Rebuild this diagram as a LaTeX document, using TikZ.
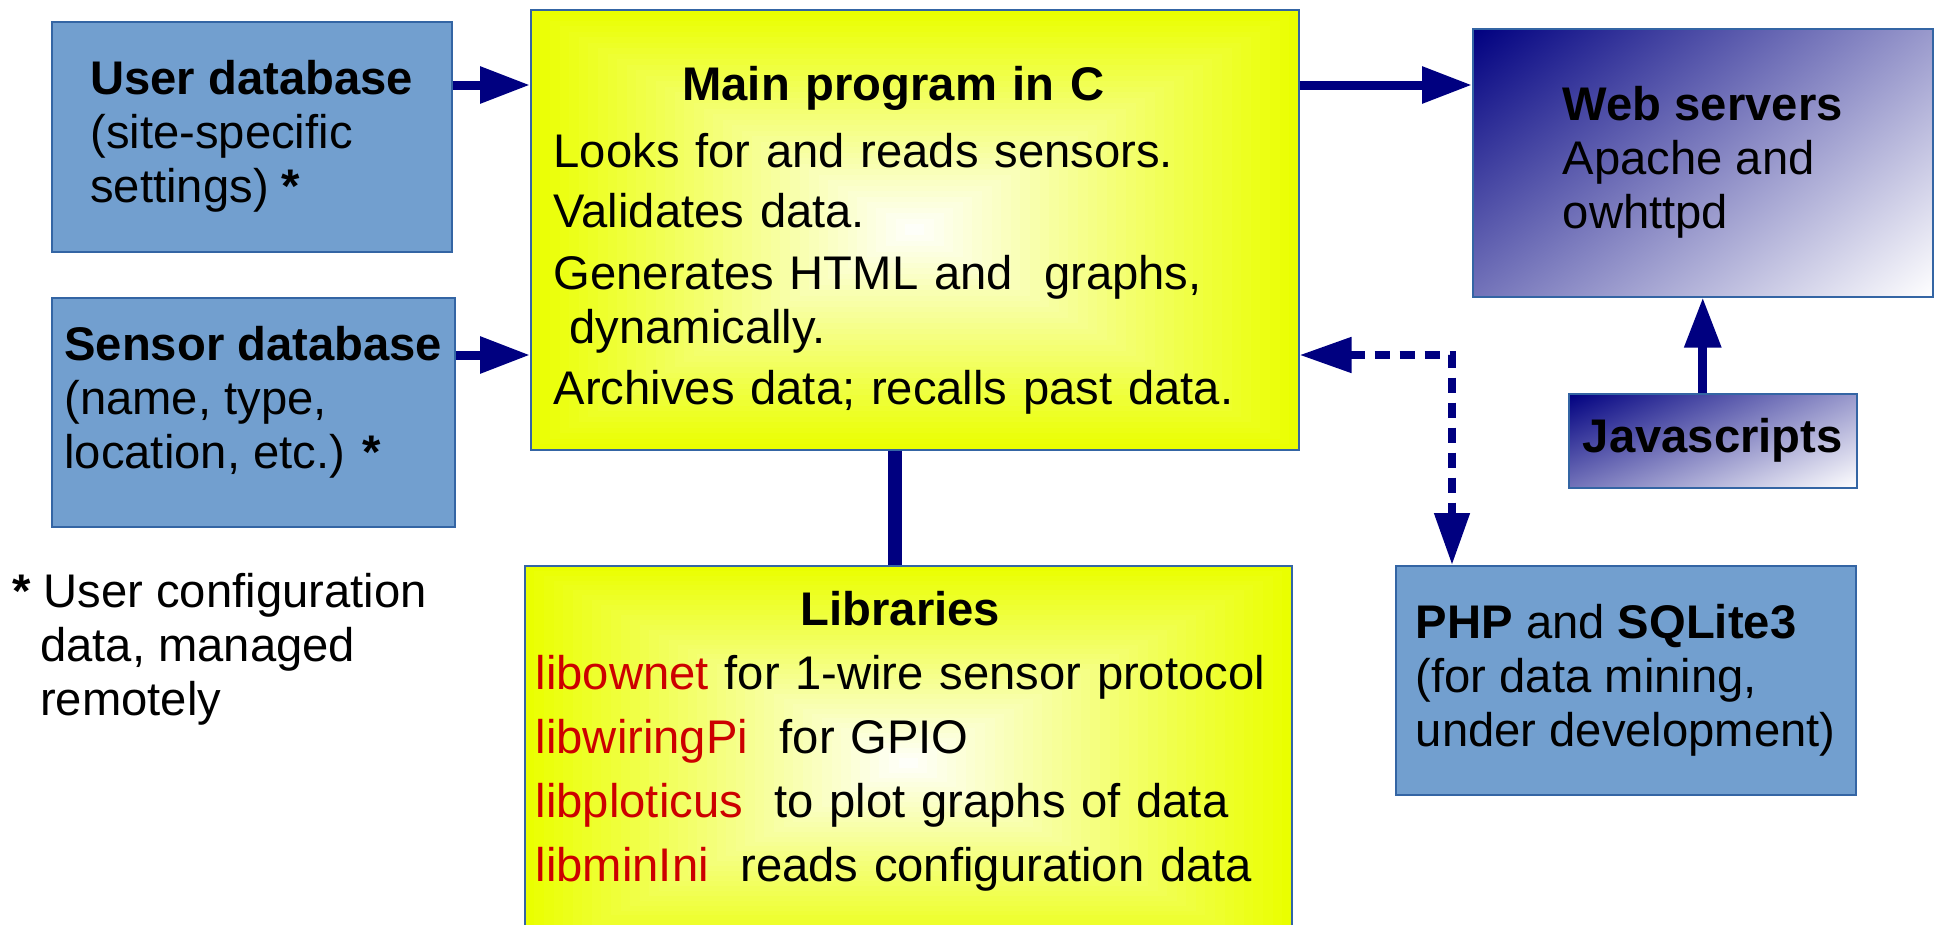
\documentclass[tikz,border=0pt]{standalone}
\usepackage{fontspec}
\setmainfont{Liberation Sans}
\usetikzlibrary{arrows.meta,calc,shadings}
\definecolor{skyblue}{HTML}{729FCF}
\definecolor{boxborder}{HTML}{3465A4}
\definecolor{navyline}{HTML}{000080}
\definecolor{yellowedge}{HTML}{EAFF00}
\definecolor{libred}{HTML}{CC0000}
\newcommand{\libname}[1]{\textcolor{libred}{#1}}
\begin{document}
\begin{tikzpicture}[x=1pt,y=-1pt,
    every node/.style={font=\fontsize{47.2}{54}\selectfont},
    bluebox/.style={draw=boxborder, line width=1.5pt, fill=skyblue, align=left, anchor=north west},
    navybox/.style={draw=boxborder, line width=1.5pt, shade, upper left=navyline, upper right=navyline!40!white,
        lower left=navyline!55!white, lower right=white, align=left, anchor=north west},
    yellowbox/.style={draw=boxborder, line width=1.5pt, anchor=north west, path picture={
        \foreach \k [evaluate=\k as \p using {100-2.5*\k}] in {0,...,39}
            \fill[yellowedge!\p!white] ($(path picture bounding box.south west)!\k/80!(path picture bounding box.north east)$)
                rectangle ($(path picture bounding box.north east)!\k/80!(path picture bounding box.south west)$);}},
    arr/.style={draw=navyline, line width=9pt, -{Triangle[length=50pt,width=35pt]}},
    darr/.style={draw=navyline, line width=8pt, dash pattern=on 15pt off 10pt,
        {Triangle[length=52pt,width=34pt]}-{Triangle[length=52pt,width=34pt]}},
    link/.style={draw=navyline, line width=14pt}]
    \useasboundingbox (0,0) rectangle (1939,924);
    % boxes
    \node[bluebox, minimum width=400pt, minimum height=230pt] (userdb) at (51,21)
        {\textbf{User database}\\(site-specific\\settings) \textbf{*}};
    \node[bluebox, minimum width=403pt, minimum height=229pt] (sensordb) at (51,297)
        {\textbf{Sensor database}\\(name, type,\\location, etc.) \textbf{*}\rule[-30pt]{0pt}{1pt}};
    \node[yellowbox, minimum width=768pt, minimum height=440pt, text width=722pt, inner xsep=23pt] (main) at (530,9)
        {\begin{tabular}{@{}l@{}}
        \multicolumn{1}{c}{\rule{0pt}{62pt}\textbf{Main program in C}}\\[13pt]
        Looks for and reads sensors.\\[6pt]
        Validates data.\\[8pt]
        Generates HTML and\ \ graphs,\\
        \ dynamically.\\[7pt]
        Archives data; recalls past data.
        \end{tabular}};
    \node[yellowbox, minimum width=767pt, text width=745pt, inner xsep=11pt, inner ysep=22pt] (lib) at (524,565)
        {\begin{tabular}{@{}l@{}}
        \multicolumn{1}{c}{\textbf{Libraries}}\\[10pt]
        \libname{libownet} for 1-wire sensor protocol\\[10pt]
        \libname{libwiringPi}\ \ for GPIO\\[10pt]
        \libname{libploticus}\ \ to plot graphs of data\\[10pt]
        \libname{libminIni}\ \ reads configuration data\\[40pt]
        \end{tabular}};
    \node[navybox, minimum width=460pt, minimum height=268pt] (web) at (1472,28)
        {\textbf{Web servers}\\Apache and\\owhttpd};
    \node[navybox, minimum width=288pt, minimum height=94pt] (js) at (1568,393) {\textbf{Javascripts}};
    \node[bluebox, minimum width=460pt, minimum height=229pt] (php) at (1395,565)
        {\textbf{PHP} and \textbf{SQLite3}\\(for data mining,\\under development)};
    \node[align=left, inner sep=0pt, anchor=north west] (note) at (12,573)
        {\textbf{*} User configuration\\\hspace*{28pt}data, managed\\\hspace*{28pt}remotely};
    % connectors
    \coordinate (ytop) at (0,85);
    \coordinate (ymid) at (0,355);
    \coordinate (dcorner) at (1452,355);
    \coordinate (libx) at (895,0);
    \draw[arr] (userdb.east |- ytop) -- (main.west |- ytop);
    \draw[arr] (sensordb.east |- ymid) -- (main.west |- ymid);
    \draw[arr] (main.east |- ytop) -- (web.west |- ytop);
    \draw[arr] (js.north -| web.south) -- (web.south);
    \draw[darr] (main.east |- dcorner) -| (php.north -| dcorner);
    \draw[link] (main.south -| libx) -- (lib.north -| libx);
\end{tikzpicture}
\end{document}
